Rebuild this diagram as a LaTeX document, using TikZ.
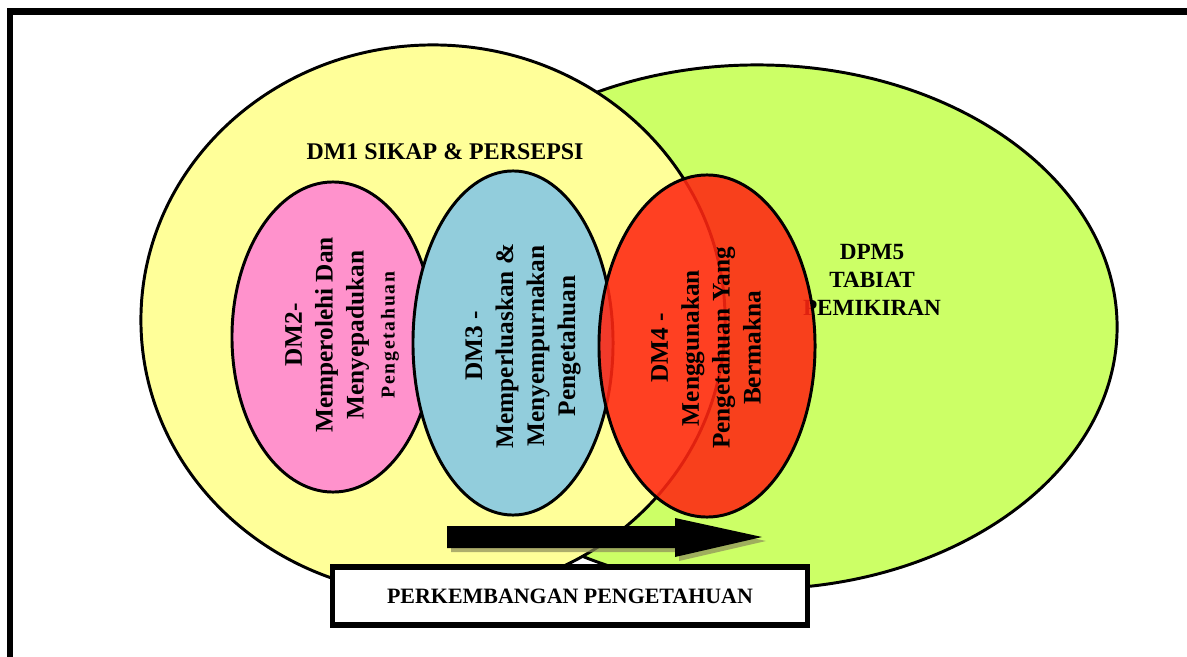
\documentclass[tikz,border=0pt]{standalone}
\usepackage{fontspec}
\setmainfont{Liberation Serif}
\usetikzlibrary{shapes.geometric}
\definecolor{cyellow}{RGB}{255,255,153}
\definecolor{cgreen}{RGB}{204,255,102}
\definecolor{cpink}{RGB}{255,146,204}
\definecolor{cblue}{RGB}{146,205,220}
\definecolor{cred}{RGB}{255,38,18}
\definecolor{cshadow}{RGB}{140,140,90}
\begin{document}
\begin{tikzpicture}[x=0.025cm,y=-0.025cm,
  blob/.style={ellipse, draw=black, line width=2.1pt, inner sep=0pt},
  lbl/.style={font=\bfseries\fontsize{17}{21}\selectfont, align=center, text=black, inner sep=0pt},
  vlbl/.style={font=\bfseries\fontsize{18}{22}\selectfont, align=center, text=black, inner sep=0pt, rotate=90},
]
\useasboundingbox (0,0) rectangle (1187,656);
\draw[line width=4.3pt] (10,670) -- (10,11.5) -- (1200,11.5);
% big ellipses
\node[blob, fill=cgreen, minimum width=18cm, minimum height=13.1cm] (dpm5) at (757,327) {};
\node[blob, fill=cyellow, minimum width=14.6cm, minimum height=13.75cm] (dm1) at (433,320) {};
\node[lbl] (dm1lbl) at (445,152) {DM1 SIKAP \& PERSEPSI};
% inner ellipses
\node[blob, fill=cpink, minimum width=5.05cm, minimum height=7.75cm] (dm2) at (333,337) {};
\node[blob, fill=cblue, minimum width=5cm, minimum height=8.6cm] (dm3) at (513,343) {};
\node[lbl, font=\bfseries\fontsize{16.5}{20}\selectfont] (dpm5lbl) at (872,280) {DPM5\\TABIAT\\PEMIKIRAN};
\node[blob, fill=cred, fill opacity=0.88, minimum width=5.4cm, minimum height=8.55cm] (dm4) at (707,346) {};
% rotated labels
\node[vlbl] (dm2lbl) at (342,335) {DM2-\\Memperolehi Dan\\Menyepadukan\\{\fontsize{14}{22}\selectfont\addfontfeature{LetterSpace=9}Pengetahuan}};
\node[vlbl] (dm3lbl) at (523,346) {DM3 -\\Memperluaskan \&\\Menyempurnakan\\Pengetahuan};
\node[vlbl] (dm4lbl) at (706,348) {DM4 -\\Menggunakan\\Pengetahuan Yang\\Bermakna};
% arrow
\coordinate (arrS) at (447,537);
\coordinate (arrE) at (762,537);
\fill[cshadow, opacity=0.7] ([shift={(4,4)}]arrS) ++(0,-11) -- ++(228,0) -- ++(0,-8) -- ([shift={(4,4)}]arrE) -- ++(-87,20) -- ++(0,-9) -- ++(-228,0) -- cycle;
\fill[black] (arrS) ++(0,-11) -- ++(228,0) -- ++(0,-8) -- (arrE) -- ++(-87,20) -- ++(0,-9) -- ++(-228,0) -- cycle;
% box
\node[draw=black, line width=3.6pt, fill=white, minimum width=11.85cm, minimum height=1.45cm, inner sep=0pt,
      font=\bfseries\fontsize{15.6}{18}\selectfont] (box) at (570,596) {PERKEMBANGAN PENGETAHUAN};
\end{tikzpicture}
\end{document}
